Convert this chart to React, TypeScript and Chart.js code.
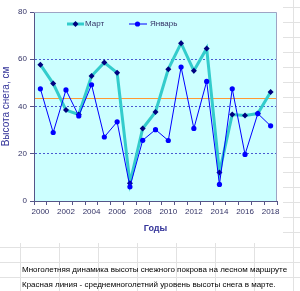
import React, { useEffect, useRef } from "react";
import { Chart, registerables } from "chart.js";

Chart.register(...registerables);

const years = [
  "2000", "2001", "2002", "2003", "2004", "2005", "2006", "2007", "2008", "2009",
  "2010", "2011", "2012", "2013", "2014", "2015", "2016", "2017", "2018",
];
const marchSnow = [57.7, 49.7, 38.5, 36.6, 52.9, 58.6, 54.3, 7.5, 30.7, 37.7, 55.8, 66.8, 55.1, 64.6, 12.1, 36.6, 36.2, 37.0, 46.1];
const januarySnow = [47.5, 29.0, 47.0, 36.0, 49.2, 27.1, 33.5, 6.0, 25.7, 30.2, 25.6, 56.7, 30.7, 50.6, 7.0, 47.5, 19.7, 37.0, 31.8];
const marchAverage = 43.8;
const yMin = 0;
const yMax = 80;
const yStep = 20;
const seriesLabels = ["Март", "Январь"];
const yTitle = "Высота снега, см";
const xTitle = "Годы";
const captionLines = [
  "Многолетняя динамика высоты снежного покрова на лесном маршруте",
  "Красная линия - среднемноголетний уровень высоты снега в марте.",
];

const FONT = "'Liberation Sans', Arial, sans-serif";
const AXIS_TEXT = "#333366";
const TITLE_TEXT = "#333399";

const backgroundPlugin = {
  id: "sheetBackground",
  beforeDraw(chart: any) {
    const { ctx, width, height, chartArea } = chart;
    ctx.save();
    ctx.fillStyle = "#ffffff";
    ctx.fillRect(0, 0, width, height);
    const boxRight = 283;
    const boxBottom = 243;
    ctx.strokeStyle = "#e2e2e2";
    ctx.lineWidth = 1;
    ctx.beginPath();
    for (let y = 7.5; y < height; y += 15) {
      if (y > boxBottom) {
        ctx.moveTo(0, y);
        ctx.lineTo(width, y);
      } else {
        ctx.moveTo(boxRight, y);
        ctx.lineTo(width, y);
      }
    }
    for (let x = 20.5; x < width; x += 39) {
      if (x > boxRight) {
        ctx.moveTo(x, 0);
        ctx.lineTo(x, height);
      } else {
        ctx.moveTo(x, boxBottom);
        ctx.lineTo(x, height);
      }
    }
    ctx.stroke();
    ctx.fillStyle = "#ccffff";
    ctx.fillRect(chartArea.left, chartArea.top, chartArea.right - chartArea.left, chartArea.bottom - chartArea.top);
    ctx.restore();
  },
  beforeDatasetsDraw(chart: any) {
    const { ctx, chartArea, scales } = chart;
    ctx.save();
    ctx.strokeStyle = "#9ea4c4";
    ctx.lineWidth = 1;
    ctx.beginPath();
    ctx.moveTo(chartArea.left, chartArea.top + 0.5);
    ctx.lineTo(chartArea.right - 0.5, chartArea.top + 0.5);
    ctx.lineTo(chartArea.right - 0.5, chartArea.bottom);
    ctx.stroke();
    const y = Math.round(scales.y.getPixelForValue(marchAverage)) + 0.5;
    ctx.strokeStyle = "#ff9933";
    ctx.beginPath();
    ctx.moveTo(chartArea.left + 1, y);
    ctx.lineTo(chartArea.right - 1, y);
    ctx.stroke();
    ctx.restore();
  },
  afterDatasetsDraw(chart: any) {
    const { ctx, chartArea } = chart;
    const ds = chart.data.datasets;
    const y = chartArea.top + 12;
    ctx.save();
    ctx.font = `8px ${FONT}`;
    ctx.textBaseline = "middle";
    let x0 = chartArea.left + 33;
    ctx.strokeStyle = ds[0].borderColor;
    ctx.lineWidth = 3;
    ctx.beginPath();
    ctx.moveTo(x0, y);
    ctx.lineTo(x0 + 17, y);
    ctx.stroke();
    ctx.fillStyle = ds[0].pointBackgroundColor;
    ctx.beginPath();
    const cx = x0 + 8.5;
    ctx.moveTo(cx, y - 3);
    ctx.lineTo(cx + 3, y);
    ctx.lineTo(cx, y + 3);
    ctx.lineTo(cx - 3, y);
    ctx.closePath();
    ctx.fill();
    ctx.fillStyle = AXIS_TEXT;
    ctx.fillText(ds[0].label, x0 + 18, y);
    x0 = chartArea.left + 95;
    ctx.strokeStyle = ds[1].borderColor;
    ctx.lineWidth = 1;
    ctx.beginPath();
    ctx.moveTo(x0, y);
    ctx.lineTo(x0 + 18, y);
    ctx.stroke();
    ctx.fillStyle = ds[1].pointBackgroundColor;
    ctx.beginPath();
    ctx.arc(x0 + 8.5, y, 2.6, 0, Math.PI * 2);
    ctx.fill();
    ctx.fillStyle = AXIS_TEXT;
    ctx.fillText(ds[1].label, x0 + 21, y);
    ctx.restore();
  },
};

export default function App() {
  const canvasRef = useRef<HTMLCanvasElement | null>(null);

  useEffect(() => {
    if (!canvasRef.current) return;
    const chart = new Chart(canvasRef.current, {
      type: "line",
      data: {
        labels: years,
        datasets: [
          {
            label: seriesLabels[0],
            data: marchSnow,
            borderColor: "#33cccc",
            borderWidth: 3,
            pointStyle: "rectRot",
            pointRadius: 3,
            pointBackgroundColor: "#000080",
            pointBorderColor: "#000080",
            pointBorderWidth: 0,
            tension: 0,
            order: 1,
          },
          {
            label: seriesLabels[1],
            data: januarySnow,
            borderColor: "#0000ff",
            borderWidth: 1,
            pointStyle: "circle",
            pointRadius: 2.6,
            pointBackgroundColor: "#0000ff",
            pointBorderColor: "#0000ff",
            pointBorderWidth: 0,
            tension: 0,
            order: 0,
          },
        ],
      },
      options: {
        responsive: false,
        animation: false,
        layout: { padding: { left: 0, top: 12, right: 23, bottom: 57 } },
        plugins: {
          legend: { display: false },
          tooltip: { enabled: false },
          title: { display: false },
        },
        scales: {
          x: {
            type: "category",
            offset: true,
            afterFit: (scale: any) => {
              scale.height = 33;
            },
            grid: {
              offset: true,
              drawOnChartArea: false,
              drawTicks: true,
              tickLength: 4,
              tickColor: "#555588",
            },
            border: { color: "#555588", width: 1 },
            ticks: {
              autoSkip: false,
              maxRotation: 0,
              minRotation: 0,
              padding: 2,
              color: AXIS_TEXT,
              font: { family: FONT, size: 8 },
              callback: (_v: any, i: number) => (i % 2 === 0 ? years[i] : ""),
            },
            title: {
              display: true,
              text: xTitle,
              color: TITLE_TEXT,
              font: { family: FONT, size: 9, weight: "bold" },
              padding: { top: 0, bottom: 0 },
            },
          },
          y: {
            min: yMin,
            max: yMax,
            afterFit: (scale: any) => {
              scale.width = 34;
            },
            grid: {
              color: (c: any) =>
                c.tick && c.tick.value > yMin && c.tick.value < yMax ? "#4a5ad0" : "rgba(0,0,0,0)",
              lineWidth: 1,
              drawTicks: true,
              tickLength: 4,
              tickColor: "#555588",
            },
            border: { color: "#555588", width: 1, dash: [2, 2] },
            ticks: {
              stepSize: yStep,
              padding: 3,
              color: AXIS_TEXT,
              font: { family: FONT, size: 8 },
            },
            title: {
              display: true,
              text: yTitle,
              color: TITLE_TEXT,
              font: { family: FONT, size: 10 },
              padding: { top: 0, bottom: 0 },
            },
          },
        },
      },
      plugins: [backgroundPlugin],
    });
    return () => chart.destroy();
  }, []);

  return (
    <div style={{ position: "absolute", left: 0, top: 0, width: 300, height: 291, overflow: "hidden", background: "#fff" }}>
      <canvas ref={canvasRef} width={300} height={291} style={{ width: 300, height: 291, display: "block" }} />
      {captionLines.map((t, i) => (
        <div
          key={i}
          style={{
            position: "absolute",
            left: 22,
            top: 264 + i * 14.5,
            fontFamily: FONT,
            fontSize: 8,
            lineHeight: "11px",
            color: "#000",
            whiteSpace: "nowrap",
          }}
        >
          {t}
        </div>
      ))}
    </div>
  );
}
